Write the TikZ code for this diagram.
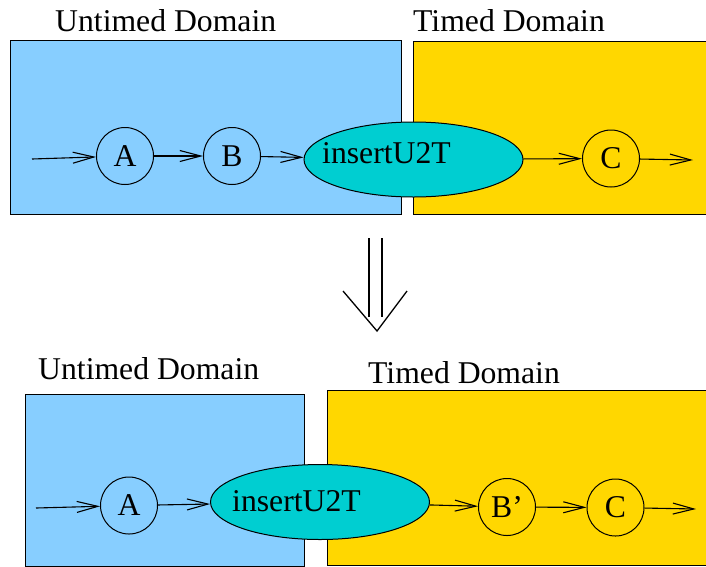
\documentclass[tikz,border=0pt]{standalone}
\usepackage{fontspec}
\setmainfont{Liberation Serif}
\usetikzlibrary{arrows.meta,shapes.geometric}

\definecolor{untimed}{HTML}{87CEFF}
\definecolor{timed}{HTML}{FFD700}
\definecolor{actor}{HTML}{00CED1}

\tikzset{
  every node/.style={font=\fontsize{31.7}{36}\selectfont},
  domainbox/.style={draw=black, line width=1pt},
  proc/.style={circle, draw, line width=1pt, minimum size=57pt, inner sep=0pt},
  conv/.style={ellipse, draw, line width=1pt, fill=actor, minimum width=219pt, minimum height=75pt, inner sep=0pt},
  flow/.style={line width=1.1pt, -{Straight Barb[length=21pt,width=11pt,line width=1.1pt]}},
  lbl/.style={anchor=base west, inner sep=0pt}
}

\begin{document}
\begin{tikzpicture}[x=1pt,y=-1pt]
  \useasboundingbox (0,0) rectangle (706,566);

  % upper graph
  \fill[untimed] (10,40) rectangle (401,214);
  \draw[domainbox] (10,40) rectangle (401,214);
  \fill[timed] (413,41) rectangle (720,214);
  \draw[domainbox] (413,41) rectangle (720,214);
  \node[lbl] (ut1) at (55,31) {Untimed Domain};
  \node[lbl] (td1) at (413,31) {Timed Domain};

  \coordinate (in1) at (32,159);
  \node[proc] (A1) at (125,156) {A};
  \node[proc] (B1) at (232,156) {B};
  \node[conv] (U1) at (413.5,159.5) {};
  \node[lbl] (U1t) at (322,163) {insertU2T};
  \node[proc] (C1) at (611,158.5) {C};
  \coordinate (out1) at (693,160);
  \draw[flow] (in1) -- (A1);
  \draw[flow] (A1) -- (B1);
  \draw[flow] (B1) -- (U1);
  \draw[flow] (U1) -- (C1);
  \draw[flow] (C1) -- (out1);

  % transformation
  \coordinate (t1) at (369,238);
  \coordinate (t2) at (382,238);
  \coordinate (t3) at (369,317);
  \coordinate (t4) at (382,317);
  \coordinate (tip) at (377,331);
  \draw[line width=1.3pt] (t1) -- (t3);
  \draw[line width=1.3pt] (t2) -- (t4);
  \draw[line width=1.3pt] (343,291) -- (tip) -- (407,291);

  % lower graph
  \fill[untimed] (25,394) rectangle (304,566);
  \draw[domainbox] (25,394) rectangle (304,566);
  \fill[timed] (327,390) rectangle (720,565);
  \draw[domainbox] (327,390) rectangle (720,565);
  \node[lbl] (ut2) at (38,379) {Untimed Domain};
  \node[lbl] (td2) at (368,383) {Timed Domain};

  \coordinate (in2) at (36,508);
  \node[proc] (A2) at (129,505.5) {A};
  \node[conv] (U2) at (320,502) {};
  \node[lbl] (U2t) at (232,511) {insertU2T};
  \node[proc] (Bp) at (507,507) {B'};
  \node[proc] (C2) at (615.5,507.5) {C};
  \coordinate (out2) at (696,509);
  \draw[flow] (in2) -- (A2);
  \draw[flow] (A2) -- (U2);
  \draw[flow] (U2) -- (Bp);
  \draw[flow] (Bp) -- (C2);
  \draw[flow] (C2) -- (out2);
\end{tikzpicture}
\end{document}
